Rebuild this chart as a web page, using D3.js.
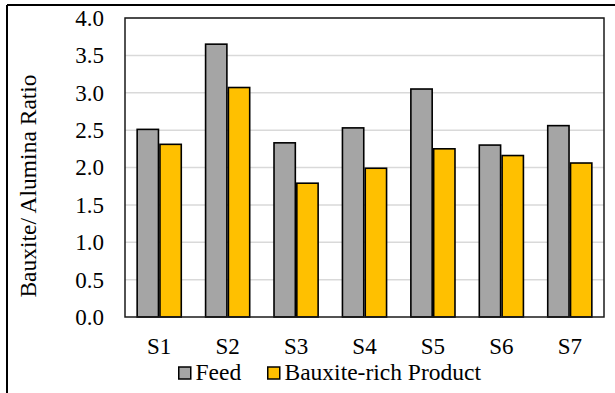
<!DOCTYPE html>
<html><head><meta charset="utf-8">
<script src="https://cdn.jsdelivr.net/npm/d3@7"></script>
<style>body{margin:0;background:#fff}svg{display:block}</style>
</head><body><svg id="c" width="615" height="393" font-family="Liberation Serif"></svg>
<script>
const categories = ["S1","S2","S3","S4","S5","S6","S7"];
const feed = [2.51,3.65,2.33,2.53,3.05,2.30,2.56];
const product = [2.31,3.07,1.79,1.99,2.25,2.16,2.06];
const seriesNames = ["Feed","Bauxite-rich Product"];
const yTicks = [0,0.5,1.0,1.5,2.0,2.5,3.0,3.5,4.0];
const colors = ["#a5a5a5","#ffc000"];
const FONT = '"Liberation Serif"';

const svg = d3.select("#c");
const L=125,R=604,T=18,B=317;
svg.append("line").attr("x1",7).attr("x2",615).attr("y1",5).attr("y2",5).attr("stroke","#000").attr("stroke-width",2);
svg.append("line").attr("x1",7).attr("x2",7).attr("y1",5).attr("y2",393).attr("stroke","#000").attr("stroke-width",2);

const x = d3.scaleBand().domain(categories).range([L,R]).paddingInner(1/3).paddingOuter(1/6);
const xs = d3.scaleBand().domain([0,1]).range([0,x.bandwidth()]);
const y = d3.scaleLinear().domain([0,4]).range([B,T]);

svg.append("g").selectAll("line").data(yTicks.slice(1)).join("line")
  .attr("x1",L).attr("x2",R).attr("y1",d=>y(d)).attr("y2",d=>y(d))
  .attr("stroke","#d9d9d9").attr("stroke-width",1.5);

const data = categories.map((c,i)=>({c,v:[feed[i],product[i]]}));
const g = svg.append("g").selectAll("g").data(data).join("g").attr("transform",d=>`translate(${x(d.c)},0)`);
g.selectAll("rect").data(d=>d.v.map((v,k)=>({v,k}))).join("rect")
  .attr("x",d=>xs(d.k)+0.75).attr("width",xs.bandwidth()-1.5)
  .attr("y",d=>y(d.v)).attr("height",d=>B-y(d.v))
  .attr("fill",d=>colors[d.k]).attr("stroke","#000").attr("stroke-width",1.6);

svg.append("rect").attr("x",L).attr("y",T).attr("width",R-L).attr("height",B-T)
  .attr("fill","none").attr("stroke","#1a1a1a").attr("stroke-width",1.5);

const yAxis = svg.append("g").attr("transform",`translate(${L},0)`)
  .call(d3.axisLeft(y).tickValues(yTicks).tickFormat(d3.format(".1f")).tickSize(0).tickPadding(21));
yAxis.attr("font-family","Liberation Serif").attr("font-size",23);
yAxis.select(".domain").remove();
yAxis.selectAll("text").attr("font-size",23).style("font-family",FONT).attr("fill","#000");

const xAxis = svg.append("g").attr("transform",`translate(0,${B})`)
  .call(d3.axisBottom(x).tickSize(0).tickPadding(21));
xAxis.attr("font-family","Liberation Serif").attr("font-size",23);
xAxis.select(".domain").remove();
xAxis.selectAll("text").attr("font-size",23).style("font-family",FONT).attr("fill","#000");

svg.append("text").attr("transform","translate(36,186) rotate(-90)").attr("text-anchor","middle")
  .attr("font-size",23.5).style("font-family",FONT).attr("fill","#000").text("Bauxite/ Alumina Ratio");

const legX=[178,267];
seriesNames.forEach((n,k)=>{
  svg.append("rect").attr("x",legX[k]+0.75).attr("y",367).attr("width",12).attr("height",12)
    .attr("fill",colors[k]).attr("stroke","#000").attr("stroke-width",1.5);
  svg.append("text").attr("x",legX[k]+17.5).attr("y",380).attr("font-size",23.5).style("font-family",FONT).attr("fill","#000").text(n);
});
</script></body></html>
